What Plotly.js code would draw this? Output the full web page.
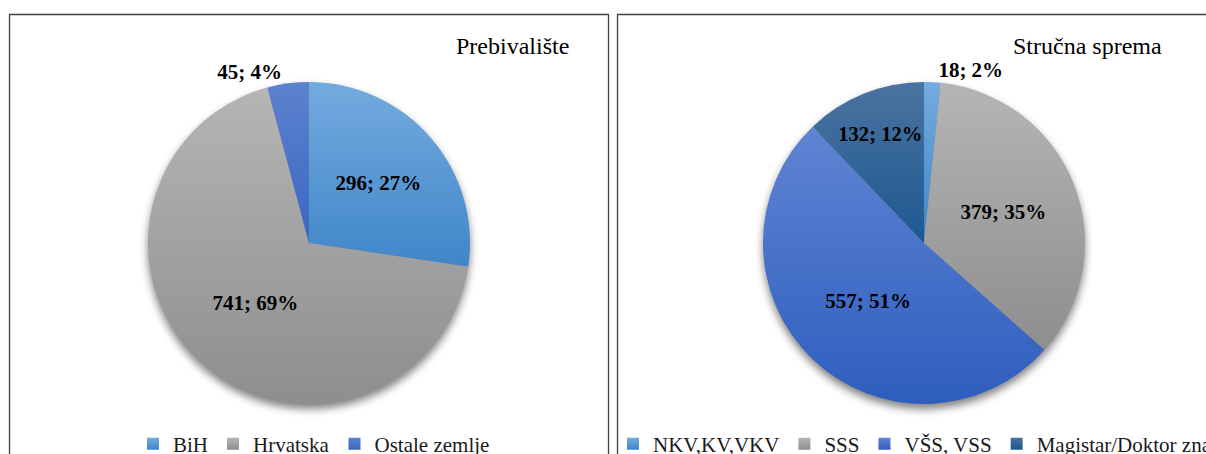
<!DOCTYPE html>
<html><head><meta charset="utf-8">
<script src="https://cdn.plot.ly/plotly-3.0.1.min.js"></script>
<style>html,body{margin:0;padding:0;overflow:hidden;background:#fff}#chart{width:1400px;height:454px}</style>
</head><body><div id="chart"></div>
<script>
// ---- data ----
const titleLeft = 'Prebivalište';
const labelsLeft = ['BiH', 'Hrvatska', 'Ostale zemlje'];
const valuesLeft = [296, 741, 45];
const pctLeft = [27, 69, 4];

const titleRight = 'Stručna sprema';
const labelsRight = ['NKV,KV,VKV', 'SSS', 'VŠS, VSS', 'Magistar/Doktor znanosti'];
const valuesRight = [18, 379, 557, 132];
const pctRight = [2, 35, 51, 12];

// ---- styles ----
const colorsLeft = ['#5b9bd5', '#a5a5a5', '#4a74c8'];
const colorsRight = ['#5b9bd5', '#a5a5a5', '#4470c8', '#2a5e94'];
const gradLeft = [['#74abde', '#3f86c9'], ['#b5b5b5', '#8e8e8e'], ['#5c82cf', '#3b67c2']];
const gradRight = [['#74abde', '#3f86c9'], ['#b5b5b5', '#8e8e8e'], ['#5f84d3', '#2e5ebe'], ['#4b73a0', '#1c5891']];

const W = 1400, H = 454;
const px = x => x / W, py = y => 1 - y / H;
const serif = 'Liberation Serif, Times New Roman, serif';

function pieTrace(labels, values, pct, colors, x0, x1, legendId, positions) {
  return {
    type: 'pie', labels: labels, values: values, customdata: pct,
    texttemplate: '%{value}; %{customdata}%',
    textposition: positions,
    insidetextorientation: 'horizontal',
    textfont: {family: serif, size: 21, color: '#000', weight: 700},
    outsidetextfont: {family: serif, size: 21, color: '#000', weight: 700},
    marker: {colors: colors, line: {width: 0}},
    sort: false, direction: 'clockwise', rotation: 0,
    domain: {x: [px(x0), px(x1)], y: [py(404), py(82)]},
    legend: legendId, hoverinfo: 'none'
  };
}

const data = [
  pieTrace(labelsLeft, valuesLeft, pctLeft, colorsLeft, 148, 470, 'legend', ['inside', 'inside', 'outside']),
  pieTrace(labelsRight, valuesRight, pctRight, colorsRight, 763, 1085, 'legend2', ['outside', 'inside', 'inside', 'inside'])
];

const legendBase = {
  orientation: 'h', yanchor: 'middle', y: py(444),
  font: {family: serif, size: 21, color: '#1a1a1a'},
  bgcolor: 'rgba(0,0,0,0)', itemclick: false, itemdoubleclick: false, traceorder: 'normal'
};

const layout = {
  width: W, height: H,
  margin: {l: 0, r: 0, t: 0, b: 0, autoexpand: false},
  paper_bgcolor: '#fff', plot_bgcolor: '#fff',
  showlegend: true,
  legend: Object.assign({}, legendBase, {x: px(314), xanchor: 'center'}),
  legend2: Object.assign({}, legendBase, {x: px(613), xanchor: 'left'}),
  annotations: [
    {text: titleLeft, xref: 'paper', yref: 'paper', x: px(512), y: py(46), xanchor: 'center', yanchor: 'middle',
     showarrow: false, font: {family: serif, size: 24, color: '#000'}},
    {text: titleRight, xref: 'paper', yref: 'paper', x: px(1087.5), y: py(46), xanchor: 'center', yanchor: 'middle',
     showarrow: false, font: {family: serif, size: 24, color: '#000'}}
  ],
  shapes: [
    {type: 'rect', xref: 'paper', yref: 'paper', x0: px(9.5), x1: px(608.5), y0: py(14.5), y1: -0.2,
     line: {color: '#404040', width: 1.3}, fillcolor: 'rgba(0,0,0,0)', layer: 'below'},
    {type: 'rect', xref: 'paper', yref: 'paper', x0: px(617.5), x1: px(1300), y0: py(14.5), y1: -0.2,
     line: {color: '#404040', width: 1.3}, fillcolor: 'rgba(0,0,0,0)', layer: 'below'}
  ]
};

const gd = document.getElementById('chart');
Plotly.newPlot(gd, data, layout, {staticPlot: true, displayModeBar: false}).then(function () {
  const NS = 'http://www.w3.org/2000/svg';
  const defs = gd.querySelector('.main-svg defs');
  function mkGrad(id, c) {
    const g = document.createElementNS(NS, 'linearGradient');
    g.setAttribute('id', id);
    g.setAttribute('x1', '0'); g.setAttribute('y1', '0'); g.setAttribute('x2', '0'); g.setAttribute('y2', '1');
    [[0, c[0]], [1, c[1]]].forEach(function (s) {
      const st = document.createElementNS(NS, 'stop');
      st.setAttribute('offset', s[0]); st.setAttribute('stop-color', s[1]);
      g.appendChild(st);
    });
    defs.appendChild(g);
  }
  const grads = [gradLeft, gradRight];
  grads.forEach(function (gs, t) { gs.forEach(function (c, i) { mkGrad('pg' + t + '_' + i, c); }); });

  // shadow filter
  const f = document.createElementNS(NS, 'filter');
  f.setAttribute('id', 'pieshadow');
  f.setAttribute('x', '-20%'); f.setAttribute('y', '-20%'); f.setAttribute('width', '140%'); f.setAttribute('height', '150%');
  f.innerHTML = '<feGaussianBlur in="SourceAlpha" stdDeviation="4"/><feOffset dy="5"/>' +
    '<feComponentTransfer><feFuncA type="linear" slope="0.5"/></feComponentTransfer>';
  defs.appendChild(f);

  const traces = gd.querySelectorAll('.pielayer .trace');
  traces.forEach(function (tr, t) {
    const sh = document.createElementNS(NS, 'g');
    sh.setAttribute('filter', 'url(#pieshadow)');
    tr.querySelectorAll('.slice path.surface').forEach(function (p, i) {
      const cl = p.cloneNode(false);
      cl.setAttribute('style', 'fill:#000;stroke:none');
      sh.appendChild(cl);
      p.style.fill = 'url(#pg' + t + '_' + i + ')';
    });
    tr.parentNode.insertBefore(sh, tr);
  });
  ['.legend', '.legend2'].forEach(function (sel, t) {
    const lg = gd.querySelector('g' + sel);
    if (!lg) return;
    lg.querySelectorAll('.legendpoints path').forEach(function (p, i) {
      p.style.fill = 'url(#pg' + t + '_' + i + ')';
    });
  });
});
</script>
</body></html>
